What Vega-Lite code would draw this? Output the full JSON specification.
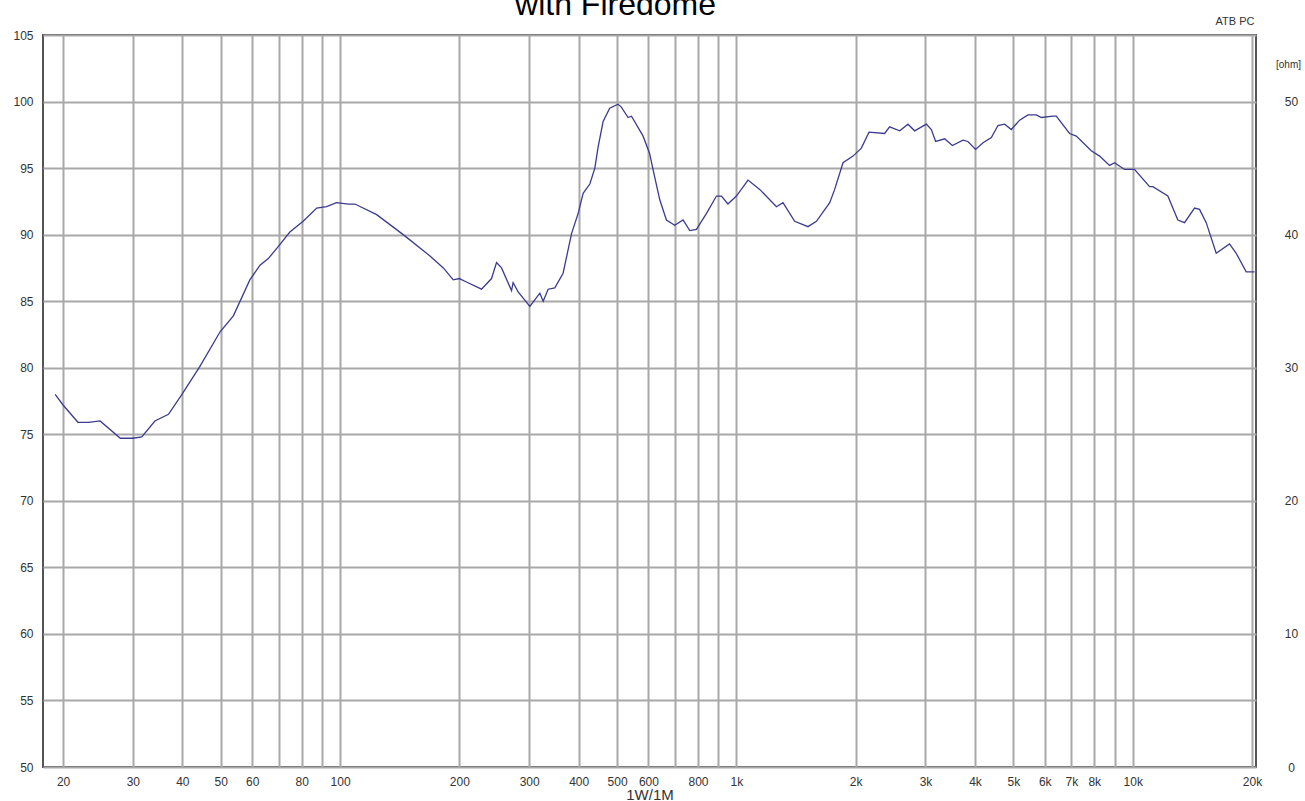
{
  "$schema": "https://vega.github.io/schema/vega-lite/v6.json",
  "width": 1213,
  "height": 732,
  "autosize": {"type": "none"},
  "padding": {"left": 43, "top": 35, "right": 49, "bottom": 34},
  "background": "white",
  "title": {
    "text": "with Firedome",
    "font": "Liberation Sans",
    "fontSize": 32,
    "fontWeight": "normal",
    "color": "#000000",
    "anchor": "middle",
    "frame": "group",
    "baseline": "alphabetic",
    "offset": -32,
    "dx": -34
  },
  "data": {
    "values": [
      {"f": 19.1, "db": 78.0}, {"f": 20.0, "db": 77.2}, {"f": 21.8, "db": 75.9}, {"f": 23.2, "db": 75.9},
      {"f": 24.8, "db": 76.0}, {"f": 27.9, "db": 74.7}, {"f": 30.0, "db": 74.7}, {"f": 31.6, "db": 74.8},
      {"f": 34.1, "db": 76.0}, {"f": 36.9, "db": 76.5}, {"f": 39.9, "db": 78.0}, {"f": 44.3, "db": 80.1},
      {"f": 49.8, "db": 82.7}, {"f": 53.8, "db": 83.9}, {"f": 59.2, "db": 86.6}, {"f": 62.8, "db": 87.7},
      {"f": 65.9, "db": 88.2}, {"f": 69.8, "db": 89.1}, {"f": 74.7, "db": 90.2}, {"f": 80.7, "db": 91.0},
      {"f": 87.3, "db": 92.0}, {"f": 92.5, "db": 92.1}, {"f": 98.0, "db": 92.4}, {"f": 104.9, "db": 92.3},
      {"f": 109, "db": 92.3}, {"f": 123.7, "db": 91.5}, {"f": 144.3, "db": 90.0}, {"f": 168.6, "db": 88.4},
      {"f": 182.2, "db": 87.5}, {"f": 193, "db": 86.6}, {"f": 200, "db": 86.7}, {"f": 206.5, "db": 86.5},
      {"f": 227.5, "db": 85.9}, {"f": 241.1, "db": 86.7}, {"f": 248.2, "db": 87.9}, {"f": 255.5, "db": 87.5},
      {"f": 270.8, "db": 85.8}, {"f": 273.3, "db": 86.4}, {"f": 281.4, "db": 85.7}, {"f": 301.2, "db": 84.6},
      {"f": 310, "db": 85.1}, {"f": 319.2, "db": 85.6}, {"f": 325.5, "db": 85.0}, {"f": 334.9, "db": 85.9},
      {"f": 348.2, "db": 86.0}, {"f": 365.4, "db": 87.1}, {"f": 383.9, "db": 90.1}, {"f": 398.8, "db": 91.6},
      {"f": 410.5, "db": 93.1}, {"f": 426.8, "db": 93.8}, {"f": 439.4, "db": 95.0}, {"f": 447.9, "db": 96.6},
      {"f": 461, "db": 98.5}, {"f": 479, "db": 99.5}, {"f": 502.6, "db": 99.8}, {"f": 512, "db": 99.6},
      {"f": 533, "db": 98.8}, {"f": 543.7, "db": 98.9}, {"f": 581.6, "db": 97.4}, {"f": 604, "db": 96.1},
      {"f": 616, "db": 94.9}, {"f": 641, "db": 92.6}, {"f": 666, "db": 91.1}, {"f": 699, "db": 90.7},
      {"f": 733.6, "db": 91.1}, {"f": 762.7, "db": 90.3}, {"f": 792.7, "db": 90.4}, {"f": 840.7, "db": 91.6},
      {"f": 890.5, "db": 92.9}, {"f": 917, "db": 92.9}, {"f": 952, "db": 92.3}, {"f": 1000, "db": 92.9},
      {"f": 1070, "db": 94.1}, {"f": 1145, "db": 93.4}, {"f": 1262, "db": 92.1}, {"f": 1311, "db": 92.4},
      {"f": 1403, "db": 91.0}, {"f": 1516, "db": 90.6}, {"f": 1592, "db": 91.0}, {"f": 1720, "db": 92.4},
      {"f": 1770, "db": 93.4}, {"f": 1858, "db": 95.4}, {"f": 1969, "db": 95.9}, {"f": 2067, "db": 96.5},
      {"f": 2161, "db": 97.7}, {"f": 2366, "db": 97.6}, {"f": 2436, "db": 98.1}, {"f": 2583, "db": 97.8},
      {"f": 2710, "db": 98.3}, {"f": 2817, "db": 97.8}, {"f": 3015, "db": 98.3}, {"f": 3104, "db": 97.9},
      {"f": 3183, "db": 97.0}, {"f": 3354, "db": 97.2}, {"f": 3507, "db": 96.7}, {"f": 3730, "db": 97.1},
      {"f": 3839, "db": 97.0}, {"f": 4014, "db": 96.4}, {"f": 4191, "db": 96.9}, {"f": 4399, "db": 97.3},
      {"f": 4571, "db": 98.2}, {"f": 4752, "db": 98.3}, {"f": 4939, "db": 97.9}, {"f": 5185, "db": 98.6},
      {"f": 5440, "db": 99.0}, {"f": 5710, "db": 99.0}, {"f": 5881, "db": 98.8}, {"f": 6292, "db": 98.9},
      {"f": 6415, "db": 98.9}, {"f": 6929, "db": 97.6}, {"f": 7206, "db": 97.4}, {"f": 7860, "db": 96.3},
      {"f": 8250, "db": 95.9}, {"f": 8743, "db": 95.2}, {"f": 9000, "db": 95.4}, {"f": 9537, "db": 94.9},
      {"f": 10105, "db": 94.9}, {"f": 11030, "db": 93.6}, {"f": 11243, "db": 93.6}, {"f": 12266, "db": 92.9},
      {"f": 13000, "db": 91.1}, {"f": 13513, "db": 90.9}, {"f": 14325, "db": 92.0}, {"f": 14744, "db": 91.9},
      {"f": 15330, "db": 90.9}, {"f": 16244, "db": 88.6}, {"f": 17553, "db": 89.3}, {"f": 18245, "db": 88.6},
      {"f": 19336, "db": 87.2}, {"f": 20290, "db": 87.2}
    ]
  },
  "layer": [
    {
      "mark": {"type": "line", "color": "#3b3b8f", "strokeWidth": 1.3, "interpolate": "linear"},
      "encoding": {
        "x": {
          "field": "f",
          "type": "quantitative",
          "scale": {"type": "log", "domain": [17.8, 20470], "nice": false},
          "axis": {
            "orient": "bottom",
            "values": [20, 30, 40, 50, 60, 70, 80, 90, 100, 200, 300, 400, 500, 600, 700, 800, 900, 1000, 2000, 3000, 4000, 5000, 6000, 7000, 8000, 9000, 10000, 20000],
            "labelExpr": "indexof([70, 90, 700, 900, 9000], datum.value) >= 0 ? '' : (datum.value >= 1000 ? (datum.value / 1000) + 'k' : '' + datum.value)",
            "labelOverlap": false,
            "labelFlush": false,
            "labelBound": false,
            "labelPadding": 9,
            "title": "1W/1M",
            "titleFontSize": 15,
            "titleFontWeight": "normal",
            "titleColor": "#333333",
            "titlePadding": 0
          }
        },
        "y": {
          "field": "db",
          "type": "quantitative",
          "scale": {"domain": [50, 105], "nice": false, "zero": false},
          "axis": {
            "orient": "left",
            "values": [50, 55, 60, 65, 70, 75, 80, 85, 90, 95, 100, 105],
            "labelPadding": 10,
            "title": null
          }
        }
      }
    },
    {
      "mark": {"type": "line", "strokeOpacity": 0},
      "encoding": {
        "x": {
          "field": "f",
          "type": "quantitative",
          "scale": {"type": "log", "domain": [17.8, 20470], "nice": false},
          "axis": {
            "orient": "top",
            "labels": false,
            "grid": false,
            "ticks": false,
            "domain": false,
            "title": "ATB PC",
            "titleX": 1211,
            "titleY": -11,
            "titleAlign": "right",
            "titleBaseline": "alphabetic",
            "titleFontSize": 11,
            "titleFontWeight": "normal",
            "titleColor": "#333333"
          }
        },
        "y": {
          "field": "db",
          "type": "quantitative",
          "scale": {"domain": [50, 105], "nice": false, "zero": false},
          "axis": {
            "orient": "right",
            "values": [50, 60, 70, 80, 90, 100],
            "labelExpr": "'' + (datum.value - 50)",
            "labelAlign": "center",
            "labelPadding": 35,
            "grid": false,
            "title": "[ohm]",
            "titleAngle": 0,
            "titleX": 32,
            "titleY": 32,
            "titleAlign": "center",
            "titleBaseline": "alphabetic",
            "titleFontSize": 10,
            "titleFontWeight": "normal",
            "titleColor": "#333333"
          }
        }
      }
    }
  ],
  "resolve": {"scale": {"x": "independent", "y": "independent"}, "axis": {"x": "independent", "y": "independent"}},
  "config": {
    "font": "Liberation Sans",
    "view": {"stroke": "#555555", "strokeWidth": 2},
    "axis": {
      "grid": true,
      "gridColor": "#a8a8a8",
      "gridWidth": 2,
      "domain": false,
      "ticks": false,
      "labelFont": "Liberation Sans",
      "titleFont": "Liberation Sans",
      "labelFontSize": 12,
      "labelColor": "#333333"
    }
  }
}
